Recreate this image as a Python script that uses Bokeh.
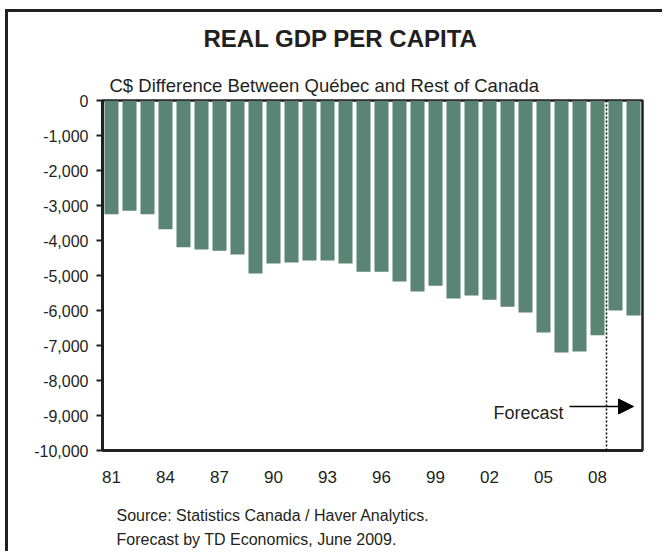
import numpy as np
from bokeh.plotting import figure
from bokeh.models import (Range1d, FixedTicker, NumeralTickFormatter, Label, Span, Arrow,
                          NormalHead, Title)
from bokeh.embed import file_html
from bokeh.resources import INLINE

# ---------------- data ----------------
years = list(range(1981, 2011))
gdp_gap = [-3250, -3150, -3250, -3680, -4190, -4260, -4290, -4400, -4940, -4660,
           -4630, -4570, -4570, -4660, -4890, -4890, -5170, -5460, -5290, -5660,
           -5570, -5690, -5890, -6060, -6630, -7200, -7170, -6710, -6000, -6140]
tick_years = [1981, 1984, 1987, 1990, 1993, 1996, 1999, 2002, 2005, 2008]
tick_labels = ["81", "84", "87", "90", "93", "96", "99", "02", "05", "08"]
y_ticks = list(range(-10000, 1, 1000))
forecast_start = 2009

title_text = "REAL GDP PER CAPITA"
subtitle_text = "C$ Difference Between Québec and Rest of Canada"
forecast_text = "Forecast"
source_lines = ["Source: Statistics Canada / Haver Analytics.",
                "Forecast by TD Economics, June 2009."]

# ---------------- layout ----------------
FONT = "Liberation Sans"
INK = "#231f20"
BAR = "#5A8575"
BORDER = 3
ML, MT = 5, 9                         # css margin of the figure
OX, OY = ML + BORDER, MT + BORDER     # canvas origin on page
FL, FT, FW, FH = 102, 100, 540, 350   # frame in page px
W, H = 665 - OX, 554 - OY

x0 = years[0]
xs = [y - x0 + 0.5 for y in years]
xmax = len(years)
ymin, ymax = -10000, 0

def px2x(px):
    return (px - FL) / FW * xmax

def py2y(py):
    return ymax - (py - FT) / FH * (ymax - ymin)

p = figure(width=W, height=H, output_backend="svg", toolbar_location=None,
           x_range=Range1d(0, xmax), y_range=Range1d(ymin, ymax),
           min_border_left=FL - OX, min_border_top=FT - OY,
           min_border_right=(OX + W) - (FL + FW), min_border_bottom=(OY + H) - (FT + FH))
p.margin = (MT, 0, 0, ML)
p.styles = {"border-left": f"{BORDER}px solid {INK}", "border-top": f"{BORDER}px solid {INK}"}
p.background_fill_color = "white"
p.border_fill_color = "white"
p.outline_line_color = INK
p.outline_line_width = 2.5
p.xgrid.visible = False
p.ygrid.visible = False

p.vbar(x=xs, top=0, bottom=gdp_gap, width=0.78, fill_color=BAR, line_color=None)

# axes
p.yaxis.ticker = FixedTicker(ticks=y_ticks)
p.yaxis.formatter = NumeralTickFormatter(format="0,0")
p.yaxis.axis_line_width = 3
p.yaxis.axis_line_color = INK
p.yaxis.major_tick_out = 6
p.yaxis.major_tick_in = 0
p.yaxis.major_tick_line_width = 2
p.yaxis.major_tick_line_color = INK
p.yaxis.minor_tick_line_color = None
p.yaxis.major_label_standoff = 8
p.yaxis.major_label_text_font = FONT
p.yaxis.major_label_text_font_size = "16px"
p.yaxis.major_label_text_color = INK

tick_pos = [t - x0 + 0.5 for t in tick_years]
p.xaxis.ticker = FixedTicker(ticks=tick_pos)
p.xaxis.major_label_overrides = {tp: lab for tp, lab in zip(tick_pos, tick_labels)}
p.xaxis.axis_line_width = 3
p.xaxis.axis_line_color = INK
p.xaxis.major_tick_line_color = None
p.xaxis.major_tick_out = 0
p.xaxis.major_tick_in = 0
p.xaxis.minor_tick_line_color = None
p.xaxis.major_label_standoff = 20
p.xaxis.major_label_text_font = FONT
p.xaxis.major_label_text_font_size = "17px"
p.xaxis.major_label_text_color = INK

# forecast divider and arrow
p.add_layout(Span(location=forecast_start - x0, dimension="height", line_color="black",
                  line_width=1.5, line_dash="2 2"))
ay = py2y(406)
p.add_layout(Arrow(end=NormalHead(size=15, fill_color="black", line_color="black"),
                   x_start=px2x(569), y_start=ay, x_end=xmax - 0.5, y_end=ay,
                   line_color="black", line_width=1.5))
p.add_layout(Label(x=px2x(563), y=py2y(412), text=forecast_text, text_align="right",
                   text_baseline="alphabetic", text_font=FONT, text_font_size="18px",
                   text_color=INK))

# main title (outermost), spacer, subtitle (next to the frame)
p.title.text = title_text
p.title.align = "left"
p.title.offset = 203 - FL
p.title.standoff = 4
p.title.text_font = FONT
p.title.text_font_size = "24px"
p.title.text_font_style = "bold"
p.title.text_color = INK

p.add_layout(Title(text=subtitle_text, align="left", offset=109 - FL, standoff=9,
                   text_font=FONT, text_font_size="18.5px", text_font_style="normal",
                   text_color=INK), "above")
p.add_layout(Title(text=" ", standoff=12, text_font_size="1px"), "above")

# spacer between the x axis and the source notes
p.add_layout(Title(text=" ", standoff=14, text_font_size="1px"), "below")
for line in source_lines:
    p.add_layout(Title(text=line, align="left", offset=116 - FL, standoff=5,
                       text_font=FONT, text_font_size="16px", text_font_style="normal",
                       text_color=INK), "below")

open("out.html", "w").write(file_html(p, INLINE))
